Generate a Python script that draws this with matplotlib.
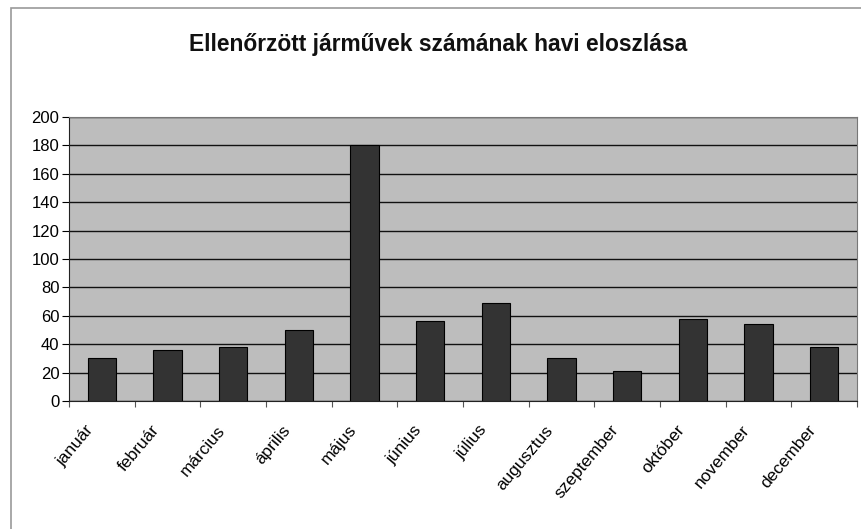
import numpy as np
import matplotlib
matplotlib.use('Agg')
import matplotlib.pyplot as plt
import matplotlib.transforms as mtransforms
from matplotlib.patches import Rectangle

months = ['január', 'február', 'március', 'április', 'május', 'június',
          'július', 'augusztus', 'szeptember', 'október', 'november', 'december']
counts = [30, 36, 38, 50, 180, 56, 69, 30, 21, 58, 54, 38]
yticks = list(range(0, 201, 20))

plt.rcParams['font.family'] = ['Liberation Sans', 'DejaVu Sans']

fig = plt.figure(figsize=(8.61, 5.29), dpi=100)
ax = fig.add_axes([69 / 861, 1 - 401 / 529, 788 / 861, 284 / 529])

# outer chart frame
fig.patches.append(Rectangle((11 / 861, -0.05), 1.0, 1 - 8 / 529 + 0.05,
                             transform=fig.transFigure, fill=False,
                             edgecolor='#999999', linewidth=1.2))

x = np.arange(len(months))
ax.set_facecolor('#bdbdbd')
ax.bar(x, counts, width=0.43, color='#333333', edgecolor='black',
       linewidth=0.8, zorder=3)

ax.set_ylim(0, 200)
ax.set_xlim(-0.5, len(months) - 0.5)
ax.set_yticks(yticks)
ax.yaxis.grid(True, color='#111111', linewidth=1.0, zorder=1)
ax.tick_params(axis='y', labelsize=12, length=5, width=0.8, pad=2)

# category boundary ticks like excel
ax.set_xticks(np.arange(-0.5, len(months), 1.0), minor=False)
ax.set_xticklabels([''] * (len(months) + 1))
ax.tick_params(axis='x', length=4, width=0.8, direction='out', colors='#555555')
ax.set_xticks(x, minor=True)
ax.set_xticklabels(months, minor=True, rotation=50, ha='right',
                   rotation_mode='anchor', fontsize=12.4)
ax.tick_params(axis='x', which='minor', length=0, pad=14, labelcolor='black')
shift = mtransforms.ScaledTranslation(-17 / 100, -2 / 100, fig.dpi_scale_trans)
for lab in ax.get_xticklabels(minor=True):
    lab.set_transform(lab.get_transform() + shift)

for s in ['top', 'right']:
    ax.spines[s].set_color('#777777')
ax.spines['left'].set_color('#222222')
ax.spines['bottom'].set_color('#222222')

fig.text(438 / 861, 1 - 45 / 529, 'Ellenőrzött járművek számának havi eloszlása',
         ha='center', va='center', fontsize=16.4, fontweight='bold',
         color='#111111')

fig.savefig('out.png', dpi=100)
